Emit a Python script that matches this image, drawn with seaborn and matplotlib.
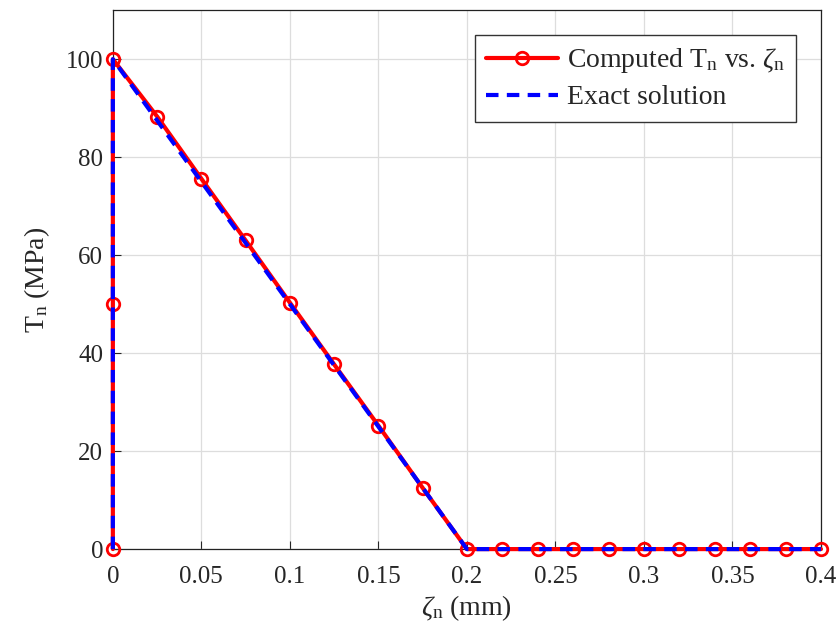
import matplotlib
matplotlib.use("Agg")
import matplotlib.pyplot as plt
import seaborn as sns
import pandas as pd

# Data
comp_x = [0, 0, 0, 0.025, 0.05, 0.075, 0.1, 0.125, 0.15, 0.175, 0.2,
          0.22, 0.24, 0.26, 0.28, 0.30, 0.32, 0.34, 0.36, 0.38, 0.40]
comp_y = [0, 50, 100, 88.3, 75.6, 63.0, 50.3, 37.7, 25.2, 12.5, 0,
          0, 0, 0, 0, 0, 0, 0, 0, 0, 0]
exact_x = [0, 0, 0.2, 0.4]
exact_y = [0, 100, 0, 0]
x_ticks = [0, 0.05, 0.1, 0.15, 0.2, 0.25, 0.3, 0.35, 0.4]
x_labels = ["0", "0.05", "0.1", "0.15", "0.2", "0.25", "0.3", "0.35", "0.4"]
y_ticks = [0, 20, 40, 60, 80, 100]

sns.set_style("ticks")
plt.rcParams['font.family'] = ['Liberation Serif', 'DejaVu Serif']
plt.rcParams['mathtext.fontset'] = 'custom'
plt.rcParams['mathtext.rm'] = 'Liberation Serif'
plt.rcParams['mathtext.it'] = 'Liberation Serif:italic'

fig = plt.figure(figsize=(8.36, 6.37), dpi=100)
ax = fig.add_axes([0.135, 0.138, 0.847, 0.846])

df_c = pd.DataFrame({"x": comp_x, "y": comp_y})
df_e = pd.DataFrame({"x": exact_x, "y": exact_y})

sns.lineplot(data=df_c, x="x", y="y", sort=False, estimator=None, ax=ax,
             color="#ff0000", linewidth=3, marker="o", markersize=9,
             markerfacecolor="none", markeredgecolor="#ff0000", markeredgewidth=2,
             label=r"Computed T$_{\rm n}$ vs. $\zeta_{\rm n}$", zorder=3, clip_on=False)
sns.lineplot(data=df_e, x="x", y="y", sort=False, estimator=None, ax=ax,
             color="#0000ff", linewidth=3, linestyle=(0, (3, 2)),
             label="Exact solution", zorder=4, clip_on=False)

ax.set_xlim(0, 0.4)
ax.set_ylim(0, 110)
ax.set_xticks(x_ticks)
ax.set_xticklabels(x_labels)
ax.set_yticks(y_ticks)
ax.tick_params(direction="in", labelsize=18, length=6, width=0.8)
ax.tick_params(axis="x", pad=12)
ax.tick_params(axis="y", pad=7)
ax.grid(True, color="#dddddd", linewidth=0.9)
ax.set_axisbelow(True)
for s in ax.spines.values():
    s.set_linewidth(0.9)
    s.set_color("#222222")

ax.set_xlabel(r"$\zeta_{\rm n}$ (mm)", fontsize=20, labelpad=4)
ax.set_ylabel(r"T$_{\rm n}$ (MPa)", fontsize=20, labelpad=10)

leg = ax.legend(loc="upper right", fontsize=20, frameon=True, fancybox=False,
                edgecolor="#333333", framealpha=1, handlelength=2.6,
                borderaxespad=0.9, handletextpad=0.3, borderpad=0.4,
                labelspacing=0.35)
leg.get_frame().set_linewidth(1.0)

fig.savefig("out.png", dpi=100)
